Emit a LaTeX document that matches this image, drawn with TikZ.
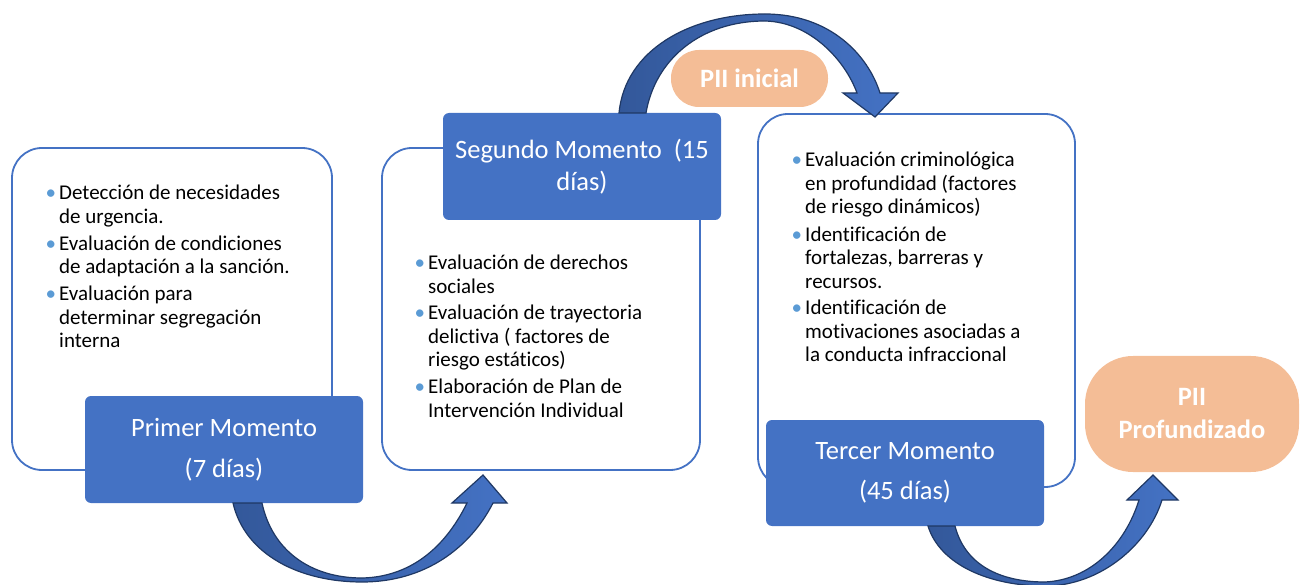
\documentclass[tikz,border=0pt]{standalone}
\usepackage{fontspec}
\setmainfont{Carlito}[Ligatures=NoCommon]
\definecolor{boxblue}{HTML}{4472C4}
\definecolor{dotblue}{HTML}{5B9BD5}
\definecolor{peach}{HTML}{F4BD96}
\definecolor{arrowdark}{HTML}{33589A}
\definecolor{arrowline}{HTML}{1F3864}
\newcommand{\pto}{\llap{\textcolor{dotblue}{\textbullet}\hspace{3pt}}}

\begin{document}
\begin{tikzpicture}[x=1pt,y=-1pt,
  etapa/.style={draw=boxblue, line width=1.8pt, rounded corners=30pt, fill=white, inner sep=0pt},
  momento/.style={fill=boxblue, rounded corners=6pt, text=white, align=center, inner sep=0pt},
  pii/.style={fill=peach, text=white, align=center, inner sep=0pt},
  lista/.style={align=left, anchor=north west, inner sep=0pt, font=\fontsize{21}{23.5}\selectfont},
  flecha/.style={draw=arrowline, line width=1.2pt, left color=arrowdark, right color=boxblue}]

        \useasboundingbox (0,0) rectangle (1307,585);

        \node[etapa, minimum width=320pt, minimum height=322pt] (e1) at (172,309) {};
        \node[etapa, minimum width=318pt, minimum height=322pt] (e2) at (541,309) {};
        \node[etapa, minimum width=317pt, minimum height=373pt] (e3) at (916.5,300.5) {};

        \node[lista] (l1) at (59,185) {\pto Detección de necesidades\\de urgencia.\\[3.5pt]
          \pto Evaluación de condiciones\\de adaptación a la sanción.\\[3.5pt]
          \pto Evaluación para\\determinar segregación\\interna};
        \node[lista] (l2) at (428,255) {\pto Evaluación de derechos\\sociales\\[3pt]
          \pto Evaluación de trayectoria\\delictiva ( factores de\\riesgo estáticos)\\[3.5pt]
          \pto Elaboración de Plan de\\Intervención Individual};
        \node[lista] (l3) at (805,152) {\pto Evaluación criminológica\\en profundidad (factores\\de riesgo dinámicos)\\[4pt]
          \pto Identificación de\\fortalezas, barreras y\\recursos.\\[3pt]
          \pto Identificación de\\motivaciones asociadas a\\la conducta infraccional};

        \node[momento, minimum width=278pt, minimum height=107pt,
          font=\fontsize{26.5}{41}\selectfont] (m1) at (224,449.5) {Primer Momento\\(7 días)};
        \node[momento, minimum width=278pt, minimum height=107pt,
          font=\fontsize{26.5}{32}\selectfont] (m2) at (582,166.5) {Segundo Momento\ \ (15\\días)};
        \node[momento, minimum width=278pt, minimum height=106pt,
          font=\fontsize{26.5}{40}\selectfont] (m3) at (905,473) {Tercer Momento\\(45 días)};

        \node[pii, minimum width=157pt, minimum height=57pt, rounded corners=28pt,
          font=\bfseries\fontsize{26.5}{33}\selectfont] (p1) at (749.5,78.5) {PII inicial};
        \node[pii, minimum width=214pt, minimum height=116pt, rounded corners=48pt,
          font=\bfseries\fontsize{26.5}{33}\selectfont] (p2) at (1192,414) {PII\\Profundizado};

        \path[flecha] (233,503) .. controls (245,555) and (300,582) .. (362,582)
          .. controls (425,582) and (470,548) .. (493,503) -- (507,503) -- (483,475)
          -- (452,503) -- (467,503) .. controls (445,548) and (410,577) .. (362,578)
          .. controls (310,578) and (272,550) .. (262,503) -- cycle;
        \path[flecha] (619,113) .. controls (625,50) and (690,14) .. (765,14)
          .. controls (830,14) and (868,55) .. (880,93) -- (898,93) -- (875,117)
          -- (843,93) -- (857,93) .. controls (845,60) and (810,22) .. (765,21)
          .. controls (700,21) and (655,60) .. (646,113) -- cycle;
        \path[flecha] (928,526) .. controls (940,565) and (990,586) .. (1045,586)
          .. controls (1100,586) and (1148,545) .. (1162,500) -- (1178,500) -- (1153,475)
          -- (1127,500) -- (1139,500) .. controls (1125,545) and (1090,580) .. (1045,582)
          .. controls (1000,582) and (965,565) .. (955,526) -- cycle;

\end{tikzpicture}
\end{document}
